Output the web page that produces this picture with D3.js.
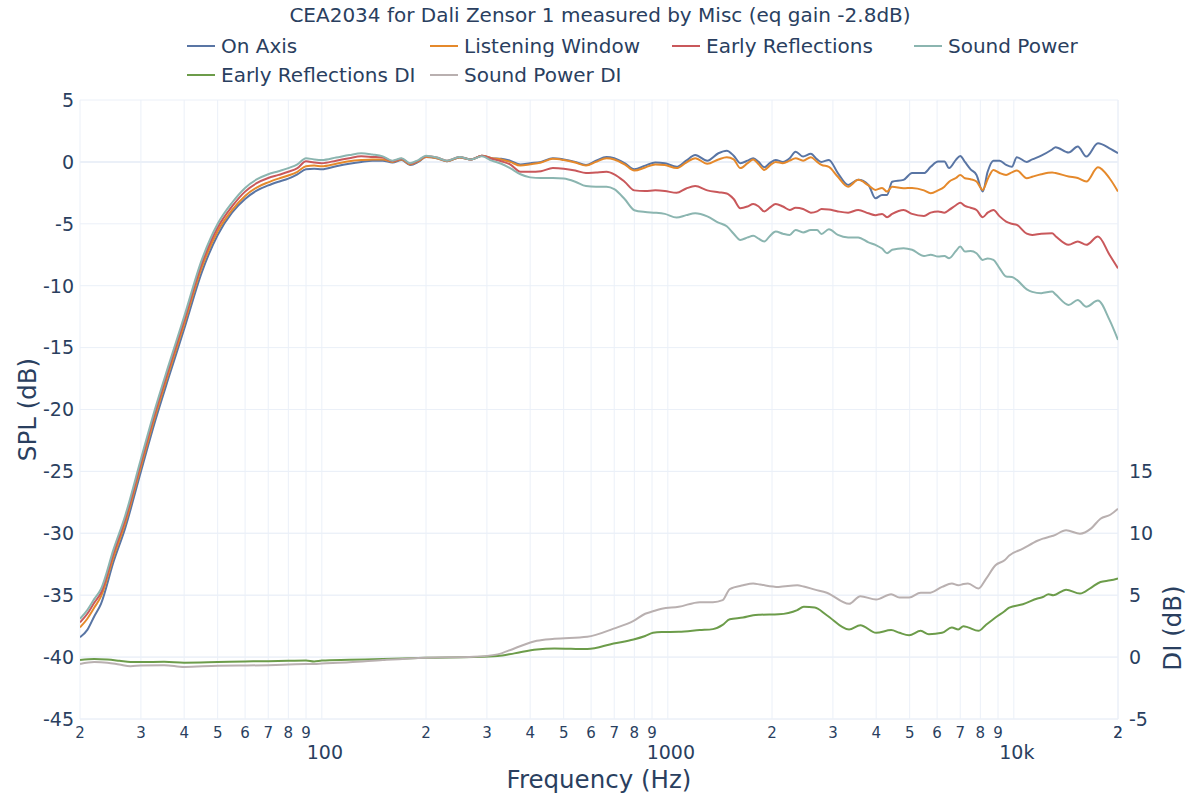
<!DOCTYPE html>
<html><head><meta charset="utf-8">
<script src="https://cdn.jsdelivr.net/npm/d3@7"></script>
<style>body{margin:0;background:#fff;} svg{display:block;font-family:"DejaVu Sans",Verdana,sans-serif;}</style>
</head><body><svg id="c" width="1200" height="800"></svg>
<script>
const titleText = "CEA2034 for Dali Zensor 1 measured by Misc (eq gain -2.8dB)";
const seriesNames = ["On Axis","Listening Window","Early Reflections","Sound Power","Early Reflections DI","Sound Power DI"];
const seriesColors = ["#5975a4","#e5892b","#c9585b","#8bb5b0","#6c9c4a","#b9b0b0"];
const splTicks = [5,0,-5,-10,-15,-20,-25,-30,-35,-40,-45];
const diTicks = [-5,0,5,10,15];

const freqSpl = [
20,21,22,23,25,27,30,33,36,40,
45,50,55,60,65,70,75,80,85,90,
95,100,110,120,130,140,150,160,170,180,
190,200,215,230,250,270,290,310,330,350,
375,400,430,465,500,540,580,620,665,700,
750,800,860,920,980,1060,1130,1200,1300,1400,
1480,1550,1620,1700,1765,1830,1900,1970,2050,2150,
2250,2340,2460,2590,2700,2780,2920,3100,3320,3550,
3800,3980,4160,4300,4450,4800,5080,5500,5750,6040,
6300,6500,6800,7000,7220,7500,7800,8130,8400,8730,
9100,9500,9870,10200,10900,11300,12000,12900,13200,14400,
15300,16200,17500,18900,20000];

const onAxis = [
-38.4,-37.8,-36.7,-35.7,-32.3,-29.6,-25.0,-20.9,-17.5,-13.5,
-8.9,-5.9,-4.1,-3.0,-2.3,-1.9,-1.6,-1.35,-1.0,-0.6,
-0.55,-0.6,-0.35,-0.15,0.0,0.1,0.1,-0.05,0.15,-0.25,
0.0,0.4,0.3,0.05,0.35,0.2,0.5,0.3,0.25,0.1,
-0.2,-0.1,0.0,0.3,0.2,0.0,-0.25,0.1,0.4,0.3,
-0.1,-0.6,-0.3,-0.05,-0.1,-0.4,0.1,0.55,0.1,0.7,
0.9,0.5,-0.1,0.1,0.3,0.0,-0.43,-0.1,0.16,0.0,
0.3,0.83,0.43,0.65,0.2,0.0,0.16,-0.9,-1.86,-1.45,
-1.86,-2.94,-2.67,-2.67,-1.6,-1.45,-0.9,-0.9,-0.4,0.03,
0.03,-0.5,0.16,0.48,0.0,-0.6,-1.05,-2.4,-0.8,0.1,
0.1,-0.24,-0.4,0.38,0.0,0.2,0.5,1.0,1.18,0.75,
1.24,0.43,1.5,1.1,0.7];

const listeningWindow = [
-37.6,-36.9,-36.0,-35.1,-31.9,-29.2,-24.6,-20.5,-17.1,-13.1,
-8.5,-5.6,-3.9,-2.75,-2.05,-1.65,-1.35,-1.1,-0.8,-0.35,
-0.3,-0.35,-0.15,0.05,0.15,0.2,0.2,0.0,0.2,-0.2,
0.05,0.4,0.3,0.05,0.35,0.2,0.5,0.3,0.2,0.0,
-0.3,-0.2,-0.05,0.25,0.15,-0.05,-0.3,0.0,0.3,0.2,
-0.2,-0.7,-0.45,-0.2,-0.25,-0.5,-0.05,0.3,-0.15,0.2,
0.38,0.2,-0.5,-0.1,0.2,-0.2,-0.65,-0.3,0.0,-0.1,
0.1,0.3,0.1,0.38,0.0,-0.24,-0.4,-1.2,-2.0,-1.45,
-1.9,-2.26,-2.1,-2.4,-2.0,-2.13,-2.1,-2.3,-2.53,-2.3,
-2.0,-1.6,-1.3,-1.05,-1.32,-1.4,-1.59,-2.26,-1.4,-0.65,
-0.9,-1.05,-0.85,-0.7,-1.32,-1.2,-1.0,-0.86,-0.9,-1.18,
-1.3,-1.59,-0.43,-1.32,-2.4];

const earlyReflections = [
-37.2,-36.5,-35.6,-34.8,-31.6,-28.9,-24.3,-20.2,-16.8,-12.8,
-8.2,-5.3,-3.6,-2.4,-1.7,-1.3,-1.05,-0.8,-0.5,0.05,
-0.05,-0.1,0.1,0.3,0.45,0.4,0.35,0.05,0.25,-0.15,
0.1,0.45,0.35,0.1,0.4,0.2,0.5,0.25,0.05,-0.2,
-0.8,-0.8,-0.75,-0.5,-0.55,-0.7,-0.9,-0.85,-0.8,-1.0,
-1.6,-2.3,-2.35,-2.3,-2.35,-2.5,-2.15,-1.95,-2.3,-2.45,
-2.55,-3.0,-3.74,-3.6,-3.4,-3.6,-4.0,-3.7,-3.4,-3.6,
-3.88,-3.7,-3.8,-4.1,-4.0,-3.8,-3.85,-4.0,-4.1,-3.88,
-4.15,-4.3,-4.2,-4.47,-4.2,-3.88,-4.2,-4.36,-4.1,-4.0,
-4.1,-3.88,-3.5,-3.3,-3.56,-3.7,-3.88,-4.47,-4.1,-3.88,
-4.4,-4.82,-5.0,-5.09,-5.8,-5.9,-5.8,-5.76,-6.0,-6.7,
-6.43,-6.7,-6.03,-7.5,-8.6];

const soundPower = [
-36.9,-36.2,-35.3,-34.5,-31.3,-28.6,-24.0,-19.9,-16.5,-12.5,
-7.9,-5.0,-3.3,-2.1,-1.4,-1.0,-0.75,-0.5,-0.2,0.3,
0.2,0.15,0.35,0.55,0.7,0.6,0.45,0.1,0.3,-0.1,
0.15,0.5,0.35,0.1,0.4,0.2,0.45,0.1,-0.15,-0.5,
-1.0,-1.25,-1.3,-1.3,-1.35,-1.6,-1.95,-2.0,-2.0,-2.2,
-3.0,-3.9,-4.05,-4.1,-4.2,-4.5,-4.3,-4.15,-4.4,-4.9,
-5.2,-5.8,-6.3,-6.1,-5.97,-6.2,-6.43,-6.0,-5.63,-5.8,
-5.9,-5.5,-5.7,-5.5,-5.5,-5.82,-5.44,-5.9,-6.1,-6.1,
-6.5,-6.7,-7.0,-7.38,-7.1,-6.97,-7.1,-7.6,-7.5,-7.65,
-7.6,-7.78,-7.2,-6.84,-7.24,-7.2,-7.38,-7.92,-7.8,-7.92,
-8.6,-9.26,-9.3,-9.53,-10.3,-10.5,-10.6,-10.47,-10.7,-11.55,
-11.15,-11.7,-11.2,-12.76,-14.38];

const freqDi = [
20,22,24,26,28,30,35,40,50,60,
70,80,90,95,100,120,150,200,275,322,
360,418,470,585,697,796,860,906,960,1075,
1237,1350,1440,1510,1650,1765,1847,2090,2367,2470,
2660,2880,3340,3600,4000,4420,4670,4980,5380,5680,
6200,6620,6910,7150,7370,7900,8300,8850,9400,9700,
10620,11700,12130,12600,13000,14160,15530,16700,17800,19000,
20000];

const earlyReflectionsDI = [
-0.24,-0.15,-0.2,-0.3,-0.4,-0.4,-0.38,-0.45,-0.4,-0.35,
-0.33,-0.3,-0.27,-0.35,-0.28,-0.22,-0.16,-0.05,0.0,0.08,
0.3,0.62,0.7,0.65,1.1,1.42,1.7,1.96,2.02,2.04,
2.18,2.26,2.6,3.06,3.2,3.38,3.42,3.46,3.8,4.06,
4.0,3.38,2.23,2.58,1.96,2.18,1.96,1.77,2.12,1.85,
1.96,2.39,2.23,2.5,2.4,2.12,2.6,3.2,3.7,4.0,
4.27,4.73,4.85,5.08,5.0,5.45,5.13,5.6,6.07,6.2,
6.36];

const soundPowerDI = [
-0.56,-0.4,-0.45,-0.6,-0.73,-0.68,-0.65,-0.8,-0.7,-0.68,
-0.65,-0.6,-0.56,-0.55,-0.52,-0.42,-0.24,-0.05,0.03,0.22,
0.7,1.32,1.48,1.64,2.3,2.93,3.5,3.7,3.9,4.06,
4.44,4.44,4.6,5.5,5.8,5.94,5.86,5.67,5.8,5.7,
5.45,5.2,4.3,4.92,4.65,5.08,4.81,4.81,5.19,5.19,
5.67,5.94,5.8,5.9,5.94,5.54,6.3,7.42,7.82,8.2,
8.76,9.4,9.57,9.7,9.8,10.24,9.97,10.38,11.18,11.5,
11.98];

const L = 80, R = 1118, T = 100, B = 719;
const textColor = "#2a3f5f", gridColor = "#ebf0f8";

const svg = d3.select("#c");
const x = d3.scaleLog().domain([20, 20000]).range([L, R]);
const ySpl = d3.scaleLinear().domain([-45, 5]).range([B, T]);
const yDi = d3.scaleLinear().domain([-5, 45]).range([B, T]);

// vertical grid
const gridFreqs = [];
[10, 100, 1000, 10000].forEach(d => { for (let m = 1; m <= 9; m++) { const f = d * m; if (f >= 20 && f <= 20000) gridFreqs.push(f); } });
gridFreqs.push(20000);
svg.append("g").selectAll("line").data(gridFreqs).join("line")
  .attr("x1", d => x(d)).attr("x2", d => x(d)).attr("y1", T).attr("y2", B)
  .attr("stroke", gridColor).attr("stroke-width", 1);
// horizontal grid
svg.append("g").selectAll("line").data(splTicks).join("line")
  .attr("x1", L).attr("x2", R).attr("y1", d => ySpl(d)).attr("y2", d => ySpl(d))
  .attr("stroke", gridColor).attr("stroke-width", d => d === 0 ? 2 : 1);
svg.append("g").selectAll("line").data(diTicks).join("line")
  .attr("x1", L).attr("x2", R).attr("y1", d => yDi(d)).attr("y2", d => yDi(d))
  .attr("stroke", gridColor).attr("stroke-width", 1);

// left axis labels
svg.append("g").selectAll("text").data(splTicks).join("text")
  .attr("x", L - 6).attr("y", d => ySpl(d)).attr("dy", "0.36em")
  .attr("text-anchor", "end").attr("font-size", 19).attr("fill", textColor)
  .text(d => d);
// right axis labels
svg.append("g").selectAll("text").data(diTicks).join("text")
  .attr("x", R + 11).attr("y", d => yDi(d)).attr("dy", "0.36em")
  .attr("text-anchor", "start").attr("font-size", 19).attr("fill", textColor)
  .text(d => d);

// x tick labels
const digitTicks = gridFreqs.filter(f => { const m = f / Math.pow(10, Math.floor(Math.log10(f) + 1e-9)); return Math.round(m) !== 1; });
svg.append("g").selectAll("text").data(digitTicks).join("text")
  .attr("x", d => x(d)).attr("y", B + 14).attr("dy", "0.36em")
  .attr("text-anchor", "middle").attr("font-size", 15).attr("fill", textColor)
  .text(d => Math.round(d / Math.pow(10, Math.floor(Math.log10(d) + 1e-9))));
const majorTicks = [100, 1000, 10000];
svg.append("g").selectAll("text").data(majorTicks).join("text")
  .attr("x", d => x(d) + 3).attr("y", B + 33).attr("dy", "0.36em")
  .attr("text-anchor", "middle").attr("font-size", 19).attr("fill", textColor)
  .text(d => d >= 10000 ? (d / 1000) + "k" : d);

// axis titles
svg.append("text").attr("x", (L + R) / 2).attr("y", 779).attr("dy", "0.36em")
  .attr("text-anchor", "middle").attr("font-size", 24.5).attr("fill", textColor).text("Frequency (Hz)");
svg.append("text").attr("transform", `translate(27,${(T + B) / 2}) rotate(-90)`).attr("dy", "0.36em")
  .attr("text-anchor", "middle").attr("font-size", 24.5).attr("fill", textColor).text("SPL (dB)");
svg.append("text").attr("transform", `translate(1172,628) rotate(-90)`).attr("dy", "0.36em")
  .attr("text-anchor", "middle").attr("font-size", 24.5).attr("fill", textColor).text("DI (dB)");

// title
svg.append("text").attr("x", 600).attr("y", 15).attr("dy", "0.36em")
  .attr("text-anchor", "middle").attr("font-size", 20).attr("fill", textColor).text(titleText);

// lines
svg.append("clipPath").attr("id", "pc").append("rect")
  .attr("x", L).attr("y", T).attr("width", R - L).attr("height", B - T);
const plot = svg.append("g").attr("clip-path", "url(#pc)");
const splSeries = [onAxis, listeningWindow, earlyReflections, soundPower];
const diSeries = [earlyReflectionsDI, soundPowerDI];
const lineSpl = d3.line().x(d => x(d[0])).y(d => ySpl(d[1])).curve(d3.curveMonotoneX);
const lineDi = d3.line().x(d => x(d[0])).y(d => yDi(d[1])).curve(d3.curveMonotoneX);
splSeries.forEach((s, i) => {
  plot.append("path").datum(freqSpl.map((f, k) => [f, s[k]]))
    .attr("d", lineSpl).attr("fill", "none").attr("stroke", seriesColors[i]).attr("stroke-width", 2);
});
diSeries.forEach((s, i) => {
  plot.append("path").datum(freqDi.map((f, k) => [f, s[k]]))
    .attr("d", lineDi).attr("fill", "none").attr("stroke", seriesColors[4 + i]).attr("stroke-width", 2);
});

// legend
const legendPos = [[187, 46], [430, 46], [672, 46], [914, 46], [187, 75], [430, 75]];
const lg = svg.append("g");
seriesNames.forEach((n, i) => {
  const [lx, ly] = legendPos[i];
  lg.append("line").attr("x1", lx).attr("x2", lx + 28).attr("y1", ly).attr("y2", ly)
    .attr("stroke", seriesColors[i]).attr("stroke-width", 2);
  lg.append("text").attr("x", lx + 34).attr("y", ly).attr("dy", "0.36em")
    .attr("font-size", 20).attr("fill", textColor).text(n);
});
</script></body></html>
